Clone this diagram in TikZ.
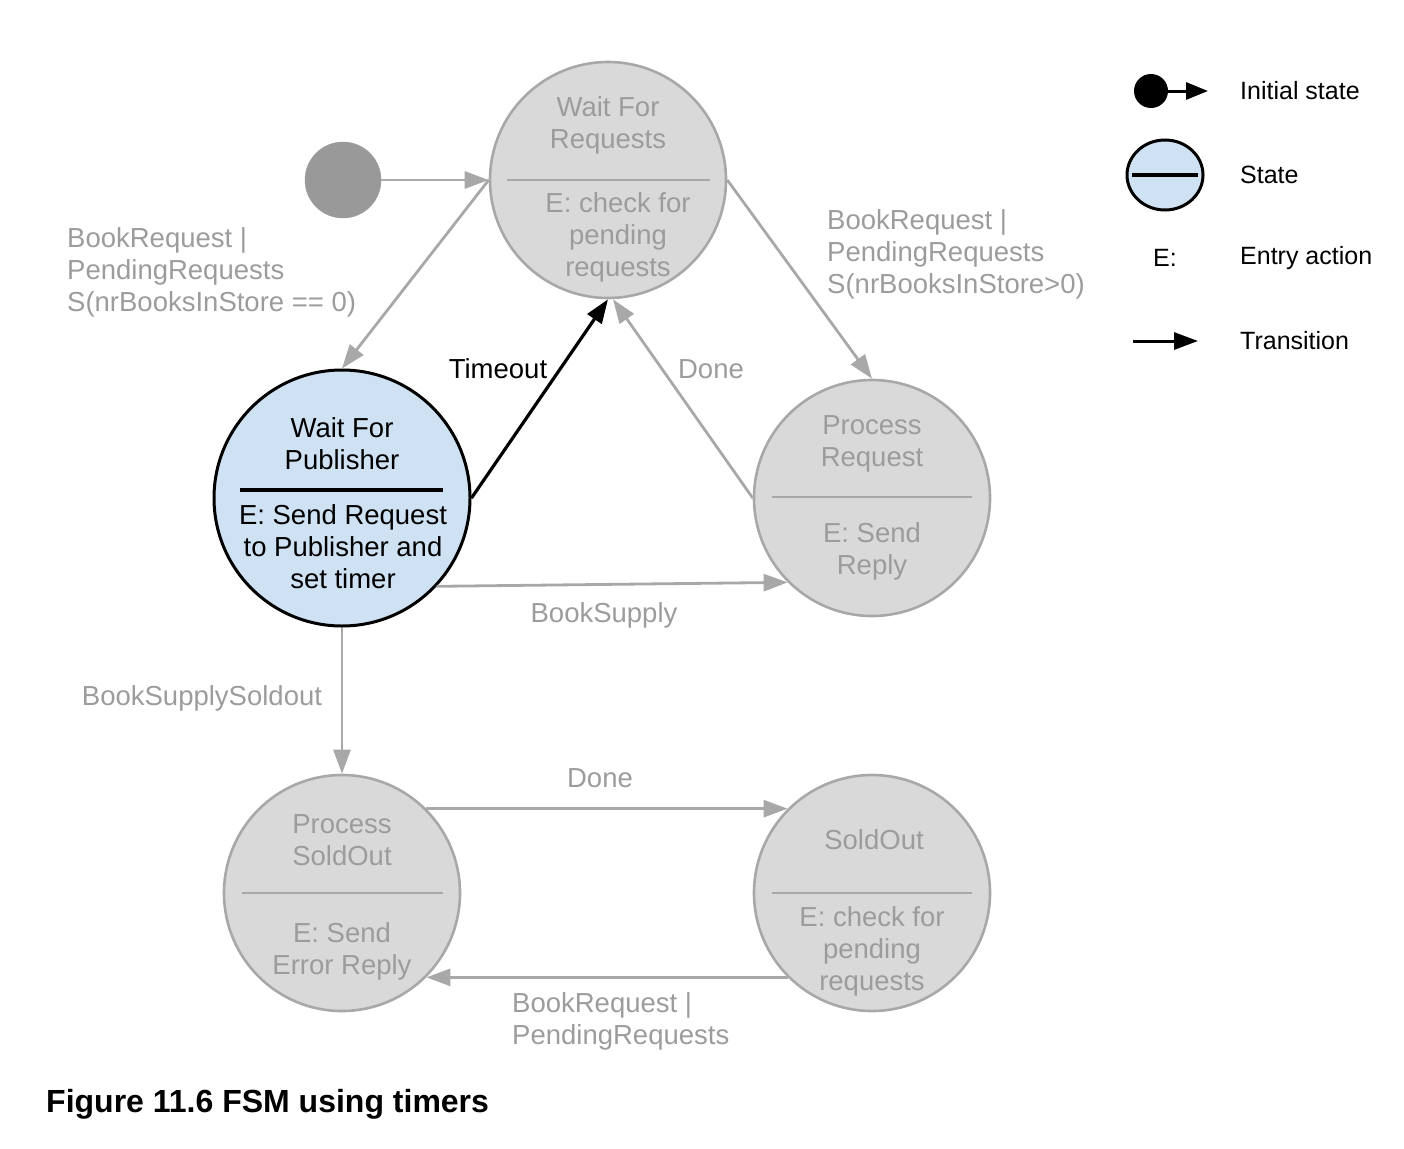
\documentclass[tikz,border=0pt]{standalone}
\usepackage{fontspec}
\setmainfont{Liberation Sans}
\usetikzlibrary{arrows.meta,shapes.geometric}
\definecolor{lg}{HTML}{A8A8A8}
\definecolor{tg}{HTML}{9C9C9C}
\definecolor{fg}{HTML}{D9D9D9}
\definecolor{bl}{HTML}{CFE2F3}
\definecolor{ig}{HTML}{999999}
\tikzset{
  gstate/.style={circle, draw=lg, fill=fg, line width=2.6pt, minimum size=236pt, inner sep=0pt},
  bstate/.style={circle, draw=black, fill=bl, line width=3pt, minimum size=256pt, inner sep=0pt},
  gtxt/.style={text=tg, align=center, font=\fontsize{27.5pt}{32pt}\selectfont, inner sep=0pt},
  btxt/.style={text=black, align=center, font=\fontsize{27.5pt}{32pt}\selectfont, inner sep=0pt},
  legtxt/.style={text=black, align=center, font=\fontsize{25pt}{32pt}\selectfont, inner sep=0pt},
  glab/.style={text=tg, align=left, font=\fontsize{27.5pt}{32pt}\selectfont, inner sep=0pt},
  gtrans/.style={draw=lg, line width=2.8pt, -{Triangle[length=24pt,width=17pt]}},
  btrans/.style={draw=black, line width=3.2pt, -{Triangle[length=24pt,width=17pt]}},
  gdiv/.style={draw=lg, line width=2.8pt},
  bdiv/.style={draw=black, line width=4pt},
}
\begin{document}
\begin{tikzpicture}[x=1pt,y=-1pt]
\useasboundingbox (0,0) rectangle (1404,1148);
% states
\node[gstate] (wfr) at (608,180) {};
\node[bstate] (wfp) at (342,498) {};
\node[gstate] (preq) at (872,498) {};
\node[gstate] (psold) at (342,893) {};
\node[gstate] (sold) at (872,893) {};
\node[circle, fill=ig, draw=ig, minimum size=76pt, inner sep=0pt] (init) at (343,180) {};
% dividers
\draw[gdiv] (507,180) -- (710,180);
\draw[bdiv] (240,490) -- (443,490);
\draw[gdiv] (772,497) -- (972,497);
\draw[gdiv] (242,893) -- (443,893);
\draw[gdiv] (772,893) -- (972,893);
% state texts
\node[gtxt] (wfr1) at (608,125) {Wait For\\Requests};
\node[gtxt] (wfr2) at (618,237) {E: check for\\pending\\requests};
\node[btxt] (wfp1) at (342,444) {Wait For\\Publisher};
\node[btxt] (wfp2) at (343,547) {E: Send Request\\to Publisher and\\set timer};
\node[gtxt] (preq1) at (872,444) {Process\\Request};
\node[gtxt] (preq2) at (872,551) {E: Send\\Reply};
\node[gtxt] (psold1) at (342,840) {Process\\SoldOut};
\node[gtxt] (psold2) at (342,951) {E: Send\\Error Reply};
\node[gtxt] (sold1) at (874,840) {SoldOut};
\node[gtxt] (sold2) at (872,951) {E: check for\\pending\\requests};
% transitions
\draw[gtrans] (init.east) -- (wfr.west);
\draw[gtrans] (wfr.west) -- (wfp.north);
\draw[gtrans] (wfr.east) -- (preq.north);
\draw[btrans] (wfp.east) -- (wfr.south);
\draw[gtrans] (preq.west) -- ([xshift=5pt]wfr.south);
\draw[gtrans] (wfp.-43) -- (preq.225);
\draw[gtrans] (wfp.south) -- (psold.north);
\draw[gtrans] (psold.45) -- (sold.135);
\draw[gtrans] (sold.225) -- (psold.-45);
% labels
\node[glab, anchor=west] (l1) at (67,272) {BookRequest |\\PendingRequests\\S(nrBooksInStore == 0)};
\node[glab, anchor=west] (l2) at (827,254) {BookRequest |\\PendingRequests\\S(nrBooksInStore>0)};
\node[btxt] (l3) at (498,369) {Timeout};
\node[gtxt] (l4) at (711,369) {Done};
\node[gtxt] (l5) at (604,615) {BookSupply};
\node[gtxt] (l6) at (202,698) {BookSupplySoldout};
\node[gtxt] (l7) at (600,778) {Done};
\node[glab, anchor=west] (l8) at (512,1021) {BookRequest |\\PendingRequests};
% legend
\node[circle, fill=black, minimum size=34pt, inner sep=0pt] (lg1) at (1151,91) {};
\coordinate (lg1e) at (1208,91);
\draw[draw=black, line width=3pt, -{Triangle[length=22pt,width=17pt]}] (lg1.east) -- (lg1e);
\node[ellipse, draw=black, fill=bl, line width=3pt, minimum width=76pt, minimum height=70pt, inner sep=0pt] (lg2) at (1165,175) {};
\draw[draw=black, line width=4pt] (1132,175) -- (1198,175);
\node[legtxt] (lg3) at (1165,258) {E:};
\coordinate (lg4s) at (1133,341);
\coordinate (lg4e) at (1198,341);
\draw[draw=black, line width=3pt, -{Triangle[length=24pt,width=17pt]}] (lg4s) -- (lg4e);
\node[legtxt, anchor=west] (lt1) at (1240,91) {Initial state};
\node[legtxt, anchor=west] (lt2) at (1240,175) {State};
\node[legtxt, anchor=west] (lt3) at (1240,258) {Entry action};
\node[legtxt, anchor=west] (lt4) at (1240,341) {Transition};
% caption
\node[anchor=west, inner sep=0pt, font=\fontsize{32pt}{38pt}\selectfont\bfseries] (cap) at (46,1104) {Figure 11.6 FSM using timers};
\end{tikzpicture}
\end{document}
